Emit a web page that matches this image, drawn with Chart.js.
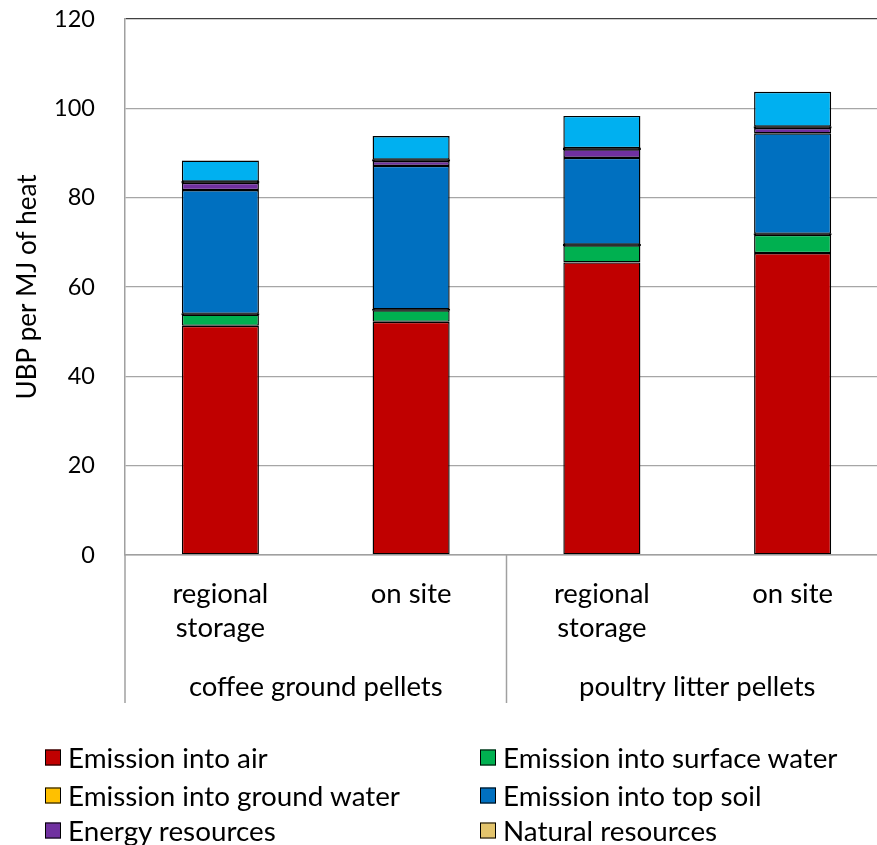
<!DOCTYPE html>
<html>
<head>
<meta charset="utf-8">
<script src="https://cdn.jsdelivr.net/npm/chart.js@4/dist/chart.umd.min.js"></script>
<style>
  html, body { margin: 0; padding: 0; background: #fff; width: 877px; height: 845px; overflow: hidden; }
  #wrap { position: absolute; left: 0; top: 0; width: 888px; height: 720px; }
  #legend { position: absolute; left: 0; top: 0; width: 877px; height: 845px; pointer-events: none; }
  .item { position: absolute; display: flex; align-items: center; font-family: Lato, sans-serif; font-size: 27.8px; color: #000; white-space: nowrap; transform: translateY(-50%); }
  .box { width: 14px; height: 14px; border: 1.5px solid #000; margin-right: 7px; box-sizing: content-box; }
</style>
</head>
<body>
<div id="wrap"><canvas id="chart" width="888" height="720"></canvas></div>
<div id="legend"></div>
<script>
// Categories: storage variant within each pellet type
const categories = [['regional', 'storage'], 'on site', ['regional', 'storage'], 'on site'];
const groups = ['coffee ground pellets', 'poultry litter pellets'];
const groupSizes = [2, 2];
const yTicks = [0, 20, 40, 60, 80, 100, 120];

// UBP per MJ of heat, by impact category
const emissionAir = [51.3, 52.2, 65.5, 67.6];
const emissionSurfaceWater = [2.5, 2.6, 3.8, 4.1];
const emissionGroundWater = [0.2, 0.2, 0.2, 0.2];
const emissionTopSoil = [27.7, 32.1, 19.4, 22.5];
const energyResources = [1.6, 1.1, 1.9, 1.2];
const naturalResources = [0.3, 0.3, 0.3, 0.3];
const otherImpacts = [4.7, 5.3, 7.2, 7.8];

const FONT = 'Lato, sans-serif';

// Segments this thin are swallowed by their outlines and show as a dark band;
// the legend keeps the series colour.
function ds(label, data, color, inLegend, thin) {
  return {
    label, data,
    backgroundColor: thin ? '#000' : color,
    legendColor: color,
    borderColor: '#000',
    borderWidth: 1.4,
    borderSkipped: false,
    inflateAmount: thin ? 0.5 : 0,
    barPercentage: 0.404,
    categoryPercentage: 1,
    inLegend
  };
}

const datasets = [
  ds('Emission into air', emissionAir, '#C00000', true, false),
  ds('Emission into surface water', emissionSurfaceWater, '#00B050', true, false),
  ds('Emission into ground water', emissionGroundWater, '#FFC000', true, true),
  ds('Emission into top soil', emissionTopSoil, '#0070C0', true, false),
  ds('Energy resources', energyResources, '#7030A0', true, false),
  ds('Natural resources', naturalResources, '#E3C46C', true, true),
  ds('Other', otherImpacts, '#00B0F0', false, false)
];

// Group labels and group separators beneath the category axis
const groupAxis = {
  id: 'groupAxis',
  afterDraw(chart) {
    const x = chart.scales.x;
    const ctx = chart.ctx;
    const top = chart.chartArea.bottom;
    const bottom = top + 148;
    const step = x.width / categories.length;
    ctx.save();
    ctx.strokeStyle = '#A0A0A0';
    ctx.lineWidth = 1.5;
    ctx.fillStyle = '#000';
    ctx.font = '27.5px ' + FONT;
    ctx.textAlign = 'center';
    ctx.textBaseline = 'middle';
    let start = 0;
    groupSizes.forEach((n, gi) => {
      const left = x.getPixelForValue(start) - step / 2;
      const right = x.getPixelForValue(start + n - 1) + step / 2;
      ctx.beginPath();
      ctx.moveTo(left, top);
      ctx.lineTo(left, bottom);
      ctx.stroke();
      ctx.fillText(groups[gi], (left + right) / 2, top + 132);
      start += n;
    });
    ctx.restore();
  }
};

const chart = new Chart(document.getElementById('chart'), {
  type: 'bar',
  data: { labels: categories, datasets },
  plugins: [groupAxis],
  options: {
    responsive: false,
    animation: false,
    layout: { padding: { top: 19, left: 0, right: 0, bottom: 0 } },
    plugins: { legend: { display: false }, tooltip: { enabled: false } },
    scales: {
      x: {
        stacked: true,
        offset: true,
        grid: { display: false, drawTicks: false },
        border: { display: true, color: '#A0A0A0', width: 1.5 },
        ticks: {
          color: '#000',
          font: { family: FONT, size: 27.5, lineHeight: 1.25 },
          padding: 22,
          maxRotation: 0,
          autoSkip: false
        },
        afterFit(scale) { scale.height = 165; }
      },
      y: {
        stacked: true,
        min: 0,
        max: 120,
        afterBuildTicks(scale) { scale.ticks = yTicks.map(v => ({ value: v })); },
        grid: {
          drawTicks: false,
          color: c => (c.tick && c.tick.value === 120 ? '#404040' : '#A6A6A6'),
          lineWidth: 1.3
        },
        border: { display: true, color: '#A0A0A0', width: 1.5 },
        ticks: {
          color: '#000',
          font: { family: FONT, size: 23.5 },
          padding: 30
        },
        title: {
          display: true,
          text: 'UBP per MJ of heat',
          color: '#000',
          font: { family: FONT, size: 26 },
          padding: { top: 12, bottom: 0 }
        },
        afterFit(scale) {
          scale.width = 125;
          scale.paddingTop = 0;
          scale.paddingBottom = 0;
        }
      }
    }
  }
});

// Two-column legend built from the chart's datasets
const legend = document.getElementById('legend');
const colX = [45, 480];
const rowY = [757, 795, 830];
chart.data.datasets.filter(d => d.inLegend).forEach((d, i) => {
  const item = document.createElement('div');
  item.className = 'item';
  item.style.left = colX[i % 2] + 'px';
  item.style.top = rowY[Math.floor(i / 2)] + 'px';
  const box = document.createElement('span');
  box.className = 'box';
  box.style.background = d.legendColor;
  const txt = document.createElement('span');
  txt.textContent = d.label;
  item.appendChild(box);
  item.appendChild(txt);
  legend.appendChild(item);
});
</script>
</body>
</html>
